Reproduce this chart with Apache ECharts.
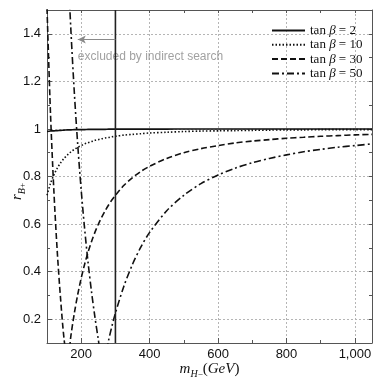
<!DOCTYPE html>
<html>
<head>
<meta charset="utf-8">
<script src="https://cdn.jsdelivr.net/npm/echarts@6/dist/echarts.min.js"></script>
<style>
html, body { margin: 0; padding: 0; background: #fff; }
#chart { width: 382px; height: 382px; }
</style>
</head>
<body>
<div id="chart"></div>
<script>
// charged Higgs mass (GeV)
var massGeV = [100, 110, 120, 130, 140, 150, 160, 170, 180, 190, 200, 210, 220, 230, 240, 250, 260, 270, 280, 290, 300,
               325, 350, 375, 400, 450, 500, 550, 600, 650, 700, 750, 800, 850, 900, 950, 1000, 1050];

// r_B+, one list per tan(beta)
var rTan2  = [0.989, 0.991, 0.992, 0.993, 0.994, 0.995, 0.996, 0.996, 0.997, 0.997, 0.997, 0.997, 0.998, 0.998, 0.998, 0.998, 0.998, 0.998, 0.999, 0.999, 0.999,
              0.999, 0.999, 0.999, 0.999, 0.999, 1.0, 1.0, 1.0, 1.0, 1.0, 1.0, 1.0, 1.0, 1.0, 1.0, 1.0, 1.0];
var rTan10 = [0.721, 0.770, 0.806, 0.835, 0.858, 0.876, 0.891, 0.904, 0.914, 0.923, 0.930, 0.937, 0.942, 0.947, 0.952, 0.955, 0.959, 0.962, 0.964, 0.967, 0.969,
              0.974, 0.977, 0.980, 0.983, 0.986, 0.989, 0.991, 0.992, 0.993, 0.994, 0.995, 0.996, 0.996, 0.997, 0.997, 0.997, 0.997];
var rTan30 = [1.508, 1.073, 0.742, 0.484, 0.280, 0.115, 0.020, 0.132, 0.226, 0.305, 0.373, 0.431, 0.482, 0.526, 0.565, 0.599, 0.629, 0.656, 0.680, 0.702, 0.721,
              0.763, 0.795, 0.822, 0.843, 0.876, 0.900, 0.917, 0.930, 0.941, 0.949, 0.955, 0.961, 0.965, 0.969, 0.972, 0.975, 0.977];
var rTan50 = [5.967, 4.758, 3.838, 3.122, 2.555, 2.096, 1.721, 1.411, 1.150, 0.930, 0.742, 0.580, 0.439, 0.317, 0.210, 0.115, 0.031, 0.044, 0.111, 0.172, 0.226,
              0.340, 0.431, 0.505, 0.565, 0.656, 0.721, 0.770, 0.806, 0.835, 0.858, 0.876, 0.891, 0.904, 0.914, 0.923, 0.930, 0.937];

var seriesNames = ['tan β = 2', 'tan β = 10', 'tan β = 30', 'tan β = 50'];

// exclusion bound and its note
var cutMass = 300;
var arrowTip = 190;
var arrowY = 1.376;
var noteY = 1.302;
var noteText = 'excluded by indirect search';

function pairs(ys) {
    return massGeV.map(function (x, i) { return [x, ys[i]]; });
}

var ink = '#111';
var frame = '#555';
var serif = 'Liberation Serif';
var sans = 'Liberation Sans';

function curve(name, ys, dash) {
    return {
        name: name,
        type: 'line',
        data: pairs(ys),
        symbol: 'none',
        smooth: 0.3,
        lineStyle: { color: ink, width: 1.6, type: dash },
        itemStyle: { color: ink }
    };
}

var mathRich = {
    i:  { fontFamily: serif, fontStyle: 'italic', fontSize: 15, color: ink, lineHeight: 20 },
    n:  { fontFamily: serif, fontSize: 15, color: ink, lineHeight: 20 },
    sb: { fontFamily: serif, fontStyle: 'italic', fontSize: 10, color: ink, lineHeight: 10, verticalAlign: 'bottom' },
    sp: { fontFamily: serif, fontSize: 9, color: ink, lineHeight: 14, verticalAlign: 'bottom' }
};

var minorX = { type: 'value', min: 100, max: 1050, interval: 100,
    axisLine: { show: false }, axisLabel: { show: false }, splitLine: { show: false },
    axisTick: { show: true, inside: true, length: 3, lineStyle: { color: frame } } };
var minorY = { type: 'value', min: 0.1, max: 1.5, interval: 0.1,
    axisLine: { show: false }, axisLabel: { show: false }, splitLine: { show: false },
    axisTick: { show: true, inside: true, length: 3, lineStyle: { color: frame } } };

var myChart = echarts.init(document.getElementById('chart'));
myChart.setOption({
    animation: false,
    backgroundColor: '#fff',
    grid: { left: 47, right: 10, top: 10, bottom: 39, containLabel: false, outerBoundsMode: 'none' },
    legend: {
        data: seriesNames,
        orient: 'vertical',
        left: 266,
        top: 19,
        itemWidth: 33,
        itemHeight: 12,
        itemGap: 1.3,
        itemStyle: { color: 'transparent', borderWidth: 0, opacity: 0 },
        textStyle: {
            fontFamily: serif, fontSize: 13, color: ink,
            rich: {
                u: { fontFamily: serif, fontSize: 13, color: ink },
                g: { fontFamily: serif, fontStyle: 'italic', fontSize: 13, color: ink }
            }
        },
        formatter: function (name) {
            return '{u|tan }{g|β}{u| = ' + name.split('= ')[1] + '}';
        }
    },
    xAxis: [
        {
            type: 'value', min: 100, max: 1050, splitNumber: 5, position: 'bottom',
            axisLine: { show: true, lineStyle: { color: frame, width: 1 } },
            axisTick: { show: true, inside: true, length: 5, lineStyle: { color: frame } },
            axisLabel: { showMinLabel: false, showMaxLabel: false, color: ink, fontSize: 13, fontFamily: sans, margin: 5 },
            splitLine: { show: true, lineStyle: { color: '#b5b5b5', type: [2, 2], width: 1 } },
            name: '{i|m}{sb|H}{sp|−}{n|(}{i|GeV}{n|)}',
            nameLocation: 'middle',
            nameGap: 16,
            nameMoveOverlap: false,
            nameTextStyle: { rich: mathRich }
        },
        Object.assign({ position: 'bottom' }, minorX),
        Object.assign({}, minorX, { position: 'top', axisLine: { show: true, lineStyle: { color: frame, width: 1 } } })
    ],
    yAxis: [
        {
            type: 'value', min: 0.1, max: 1.5, splitNumber: 7, position: 'left',
            axisLine: { show: true, lineStyle: { color: frame, width: 1 } },
            axisTick: { show: true, inside: true, length: 5, lineStyle: { color: frame } },
            axisLabel: { showMinLabel: false, showMaxLabel: false, color: ink, fontSize: 13, fontFamily: sans, margin: 6 },
            splitLine: { show: true, lineStyle: { color: '#b5b5b5', type: [2, 2], width: 1 } },
            name: '{i|r}{sb|B}{sp|+}',
            nameLocation: 'middle',
            nameRotate: 90,
            nameGap: 20,
            nameMoveOverlap: false,
            nameTextStyle: { rich: mathRich, padding: [0, 30, 0, 0] }
        },
        Object.assign({ position: 'left' }, minorY),
        Object.assign({}, minorY, { position: 'right', axisLine: { show: true, lineStyle: { color: frame, width: 1 } } })
    ],
    series: [
        curve(seriesNames[0], rTan2, 'solid'),
        curve(seriesNames[1], rTan10, [1.5, 2]),
        curve(seriesNames[2], rTan30, [6, 3]),
        curve(seriesNames[3], rTan50, [7, 3, 2, 3]),
        {
            name: 'bound',
            type: 'line',
            data: [[cutMass, 0.1], [cutMass, 1.5]],
            symbol: 'none',
            lineStyle: { color: '#222', width: 1.6 },
            markLine: {
                silent: true,
                symbol: ['none', 'arrow'],
                symbolSize: [6, 8],
                lineStyle: { color: '#8a8a8a', width: 1, type: 'solid' },
                label: { show: false },
                data: [[{ coord: [cutMass, arrowY] }, { coord: [arrowTip, arrowY] }]]
            }
        },
        {
            name: 'note',
            type: 'scatter',
            data: [[arrowTip, noteY]],
            symbolSize: 0,
            silent: true,
            label: {
                show: true, position: 'right', distance: 0,
                formatter: noteText, color: '#8a8a8a', fontSize: 12, fontFamily: sans
            }
        }
    ]
});
</script>
</body>
</html>
